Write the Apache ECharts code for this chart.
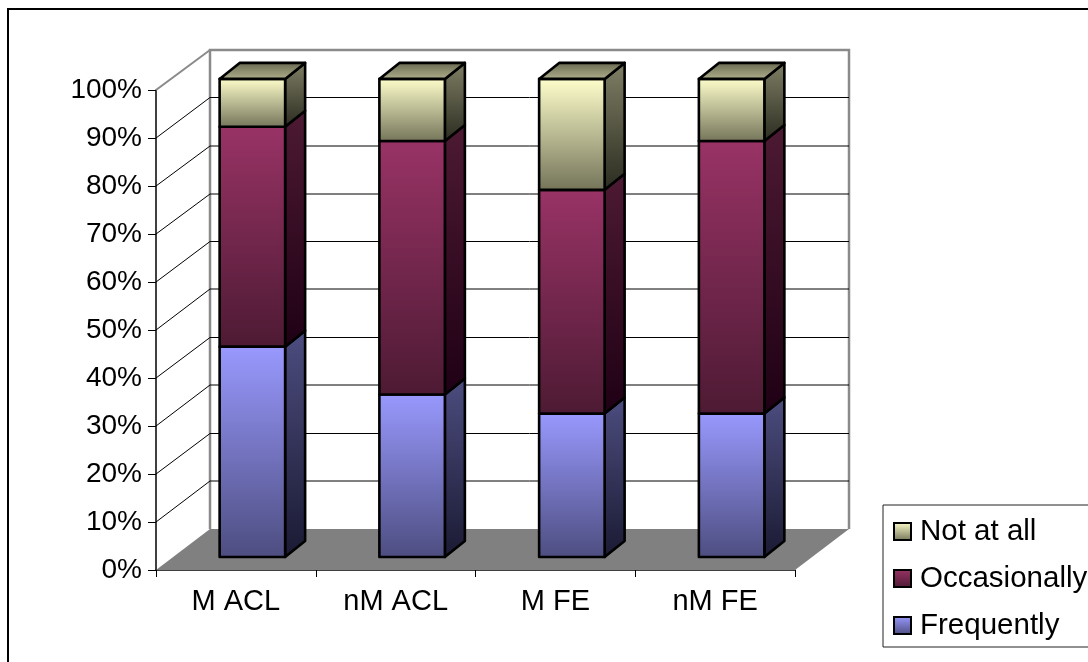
<!DOCTYPE html>
<html>
<head>
<meta charset="utf-8">
<style>html,body{margin:0;padding:0;background:#fff;overflow:hidden}#chart{width:1088px;height:662px}</style>
<script src="https://cdn.jsdelivr.net/npm/echarts@6/dist/echarts.min.js"></script>
</head>
<body>
<div id="chart"></div>
<script>
// Share of responses per group, in percent
const categories = ['M ACL', 'nM ACL', 'M FE', 'nM FE'];
const frequently = [44, 34, 30, 30];
const occasionally = [46, 53, 46.8, 57];
const notAtAll = [10, 13, 23.2, 13];
const wallTicks = [10, 20, 30, 40, 50, 60, 70, 80, 90, 100];
// Wall lines that fall on a whole pixel row and so print solid black
const solidWallLines = [20, 40, 60, 90];

// Oblique projection of the box: the depth of the whole plot and of one bar.
// Things further back shrink a touch, which the scale factors account for.
const DEPTH = [54, -41];
const WALL_SCALE = 0.998;
const BAR_FRONT = [16.5, -13];
const BAR_DEPTH = [20, -16];
const BAR_SCALE = 0.996;
const BAR_RATIO = 0.41;
const FONT = '"Liberation Sans", Arial, sans-serif';

const vgrad = (top, bottom) => new echarts.graphic.LinearGradient(0, 0, 0, 1, [
  { offset: 0, color: top }, { offset: 1, color: bottom }
]);

const palette = {
  'Frequently':   { front: ['#9999ff', '#4d4d80'], side: ['#4d4d80', '#1a1a33'], cap: ['#4d4d80', '#7a7acc'] },
  'Occasionally': { front: ['#993366', '#4d1a33'], side: ['#4d1a33', '#1f0014'], cap: ['#4d1a33', '#7a2952'] },
  'Not at all':   { front: ['#ffffcc', '#737359'], side: ['#808066', '#2b2b20'], cap: ['#66664f', '#b3b38f'] }
};

const shift = (p, d) => [p[0] + d[0], p[1] + d[1]];

function barPoint(api, cat, value) {
  const zero = api.coord([cat, 0]);
  const at = api.coord([cat, value]);
  return [at[0] + BAR_FRONT[0], zero[1] + BAR_FRONT[1] + (at[1] - zero[1]) * BAR_SCALE];
}

function barShape(params, api, colors, withCap) {
  const cat = api.value(0);
  const w = api.size([1, 0])[0] * BAR_RATIO;
  const base = barPoint(api, cat, api.value(1));
  const top = barPoint(api, cat, api.value(2));
  const x0 = base[0] - w / 2, x1 = base[0] + w / 2;
  const line = { stroke: '#000', lineWidth: 2.6, lineJoin: 'round' };
  const poly = (points, fill) => ({ type: 'polygon', shape: { points }, style: Object.assign({ fill }, line) });
  const tl = [x0, top[1]], tr = [x1, top[1]], br = [x1, base[1]], bl = [x0, base[1]];
  const children = [
    poly([tr, br, shift(br, BAR_DEPTH), shift(tr, BAR_DEPTH)], vgrad(colors.side[0], colors.side[1])),
    poly([tl, tr, br, bl], vgrad(colors.front[0], colors.front[1]))
  ];
  if (withCap) {
    children.push(poly([tl, tr, shift(tr, BAR_DEPTH), shift(tl, BAR_DEPTH)], vgrad(colors.cap[0], colors.cap[1])));
  }
  return { type: 'group', children };
}

function stackSeries(name, values, below) {
  const data = values.map((v, i) => [i, below[i], below[i] + v]);
  return {
    name, type: 'custom', coordinateSystem: 'cartesian2d', z: 5,
    encode: { x: 0, y: [1, 2] }, data,
    renderItem: (p, api) => barShape(p, api, palette[name], name === 'Not at all')
  };
}

const level1 = frequently;
const level2 = frequently.map((v, i) => v + occasionally[i]);

// Height of a value on the back wall
function wallY(api, value) {
  const zero = api.coord([0, 0])[1];
  return zero + DEPTH[1] + (api.coord([0, value])[1] - zero) * WALL_SCALE;
}

// Floor, walls and the grid on them, all placed through the value axis
const floorSeries = {
  type: 'custom', silent: true, z: 1, data: [[0]], encode: { x: 0 },
  renderItem: (p, api) => {
    const n = categories.length;
    const a = api.coord([0, 0]), band = api.size([1, 0])[0];
    const l = [a[0] - band / 2, a[1]], r = [a[0] + band * (n - 0.5), a[1]];
    const backL = l[0] + DEPTH[0], backR = r[0] + DEPTH[0];
    const floorY = wallY(api, 0), topY = wallY(api, 100);
    const edge = { stroke: '#8a8a8a', lineWidth: 2.5, fill: null };
    return { type: 'group', children: [
      { type: 'polygon', shape: { points: [l, r, [backR, floorY], [backL, floorY]] }, style: { fill: '#808080' } },
      { type: 'polyline', shape: { points: [[backL, floorY], [backL, topY], [backR, topY], [backR, floorY]] }, style: edge }
    ] };
  }
};
const gridSeries = {
  type: 'custom', silent: true, z: 2, data: wallTicks.map(v => [0, v]), encode: { x: 0, y: 1 },
  renderItem: (p, api) => {
    const v = api.value(1);
    const a = api.coord([0, v]), band = api.size([1, 0])[0];
    const x0 = a[0] - band / 2, x1 = x0 + band * categories.length;
    const raw = wallY(api, v);
    const y = solidWallLines.includes(v) ? Math.floor(raw) + 0.5 : Math.round(raw);
    const style = { stroke: '#000', lineWidth: 1, fill: null };
    const children = [{
      type: 'line', shape: { x1: x0, y1: a[1], x2: x0 + DEPTH[0], y2: v === 100 ? raw : y },
      style: v === 100 ? { stroke: '#8a8a8a', lineWidth: 2 } : style
    }];
    if (v !== 100) {
      children.push({ type: 'line', shape: { x1: x0 + DEPTH[0], y1: y, x2: x1 + DEPTH[0], y2: y }, style });
    }
    return { type: 'group', children };
  }
};

const legendSwatch = name => ({
  name, icon: 'rect',
  itemStyle: { color: vgrad(palette[name].front[0], palette[name].front[1]), borderColor: '#000', borderWidth: 2 }
});

const chart = echarts.init(document.getElementById('chart'), null, { renderer: 'canvas' });
chart.setOption({
  animation: false,
  backgroundColor: '#fff',
  textStyle: { fontFamily: FONT },
  grid: { left: 156, right: 293, top: 90, bottom: 92 },
  xAxis: {
    type: 'category', data: categories, boundaryGap: true,
    axisLine: { lineStyle: { color: '#000', width: 1.5 } },
    axisTick: { show: true, alignWithLabel: false, length: 7, lineStyle: { color: '#000', width: 1 } },
    axisLabel: { color: '#000', fontSize: 29, fontFamily: FONT, margin: 17 },
    splitLine: { show: false }
  },
  yAxis: {
    type: 'value', min: 0, max: 100, interval: 10,
    axisLine: { show: true, lineStyle: { color: '#000', width: 1.5 } },
    axisTick: { show: true, length: 8, lineStyle: { color: '#000', width: 1 } },
    axisLabel: { color: '#000', fontSize: 28, fontFamily: FONT, margin: 14, formatter: '{value}%' },
    splitLine: { show: false }
  },
  legend: {
    orient: 'vertical', left: 883, top: 505, padding: [10, 30, 5, 10],
    itemWidth: 17, itemHeight: 17, itemGap: 14, selectedMode: false,
    backgroundColor: '#fff', borderColor: '#222', borderWidth: 1,
    textStyle: { color: '#000', fontSize: 29.5, lineHeight: 29, fontFamily: FONT, padding: [0, 0, 4, 4] },
    data: ['Not at all', 'Occasionally', 'Frequently'].map(legendSwatch)
  },
  graphic: [{
    type: 'rect', silent: true, z: -1,
    shape: { x: 8, y: 9, width: 1200, height: 800 },
    style: { fill: null, stroke: '#000', lineWidth: 2 }
  }],
  series: [
    floorSeries,
    gridSeries,
    stackSeries('Frequently', frequently, categories.map(() => 0)),
    stackSeries('Occasionally', occasionally, level1),
    stackSeries('Not at all', notAtAll, level2)
  ]
});
</script>
</body>
</html>
